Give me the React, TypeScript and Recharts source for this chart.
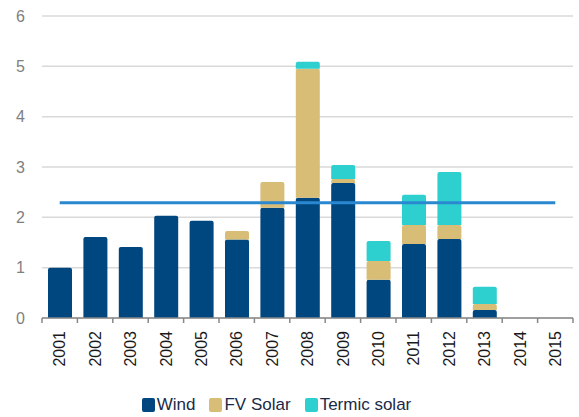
import React from "react";
import { Bar, CartesianGrid, ComposedChart, Legend, Line, XAxis, YAxis } from "recharts";

const years = ["2001", "2002", "2003", "2004", "2005", "2006", "2007", "2008", "2009", "2010", "2011", "2012", "2013", "2014", "2015"];
const wind = [1.0, 1.61, 1.41, 2.03, 1.93, 1.56, 2.19, 2.39, 2.68, 0.76, 1.47, 1.57, 0.16, 0, 0];
const fvSolar = [0, 0, 0, 0, 0, 0.17, 0.51, 2.56, 0.08, 0.37, 0.38, 0.28, 0.12, 0, 0];
const termicSolar = [0, 0, 0, 0, 0, 0, 0, 0.14, 0.28, 0.4, 0.6, 1.05, 0.34, 0, 0];
const average = [2.29, 2.29, 2.29, 2.29, 2.29, 2.29, 2.29, 2.29, 2.29, 2.29, 2.29, 2.29, 2.29, 2.29, 2.29];
const yTicks = [0, 1, 2, 3, 4, 5, 6];

const W = 579;
const H = 417;
const Y_AXIS_W = 42;
const RIGHT = 6;
const BAND = (W - Y_AXIS_W - RIGHT) / years.length;

const COLORS = { wind: "#00467f", fv: "#d8bd76", termic: "#2ecfcf", line: "#2a88d0" };
const FONT = "'Liberation Sans', Arial, sans-serif";

const data = years.map((year, i) => ({
  year,
  wind: wind[i],
  fv: fvSolar[i],
  termic: termicSolar[i],
  avg: average[i],
}));

function YearTick(props: any) {
  const { x, y, payload, index } = props;
  const last = index === years.length - 1;
  return (
    <g transform={`translate(${x},${y})`}>
      <line x1={-BAND / 2} y1={0} x2={-BAND / 2} y2={5} stroke="#888" strokeWidth={1.5} />
      {last && <line x1={BAND / 2} y1={0} x2={BAND / 2} y2={5} stroke="#888" strokeWidth={1.5} />}
      <text
        transform="rotate(-90)"
        x={-13}
        y={0}
        dy="0.36em"
        textAnchor="end"
        fontSize={16}
        fontFamily={FONT}
        fill="#1a1a1a"
      >
        {payload.value}
      </text>
    </g>
  );
}

const legendItems = [
  { key: "wind", label: "Wind", color: COLORS.wind },
  { key: "fv", label: "FV Solar", color: COLORS.fv },
  { key: "termic", label: "Termic solar", color: COLORS.termic },
];

function LegendContent() {
  return (
    <div
      style={{
        display: "flex",
        justifyContent: "center",
        alignItems: "center",
        height: 24,
        paddingRight: 20,
        fontFamily: FONT,
        fontSize: 17,
        lineHeight: "18px",
        color: "#1b2a47",
      }}
    >
      {legendItems.map((it, i) => (
        <div
          key={it.key}
          style={{ display: "flex", alignItems: "center", marginRight: i < legendItems.length - 1 ? 14 : 0 }}
        >
          <span
            style={{
              display: "inline-block",
              width: 13,
              height: 14,
              borderRadius: 2,
              background: it.color,
              marginRight: 2,
            }}
          />
          <span>{it.label}</span>
        </div>
      ))}
    </div>
  );
}

export default function App() {
  return (
    <div style={{ position: "absolute", left: 0, top: 0, width: W, height: H, background: "#fff" }}>
      <ComposedChart
        width={W}
        height={H}
        data={data}
        margin={{ top: 16, right: RIGHT, bottom: 0, left: 0 }}
      >
        <CartesianGrid vertical={false} stroke="#d9d9d9" strokeWidth={1.5} />
        <XAxis
          dataKey="year"
          height={75}
          tickSize={0}
          tickMargin={0}
          tickLine={false}
          axisLine={{ stroke: "#888", strokeWidth: 1.5 }}
          tick={<YearTick />}
          interval={0}
        />
        <YAxis
          width={Y_AXIS_W}
          domain={[0, 6]}
          ticks={yTicks}
          axisLine={false}
          tickLine={false}
          tickSize={0}
          tickMargin={17}
          tick={{ fontSize: 16, fill: "#7f7f7f", fontFamily: FONT }}
        />
        <Legend verticalAlign="bottom" height={24} content={<LegendContent />} />
        <Bar dataKey="wind" stackId="a" barSize={24} fill={COLORS.wind} radius={[2, 2, 0, 0]} isAnimationActive={false} />
        <Bar dataKey="fv" stackId="a" barSize={24} fill={COLORS.fv} radius={[2, 2, 0, 0]} isAnimationActive={false} />
        <Bar dataKey="termic" stackId="a" barSize={24} fill={COLORS.termic} radius={[2, 2, 0, 0]} isAnimationActive={false} />
        <Line
          dataKey="avg"
          stroke={COLORS.line}
          strokeWidth={3}
          dot={false}
          activeDot={false}
          isAnimationActive={false}
        />
      </ComposedChart>
    </div>
  );
}
